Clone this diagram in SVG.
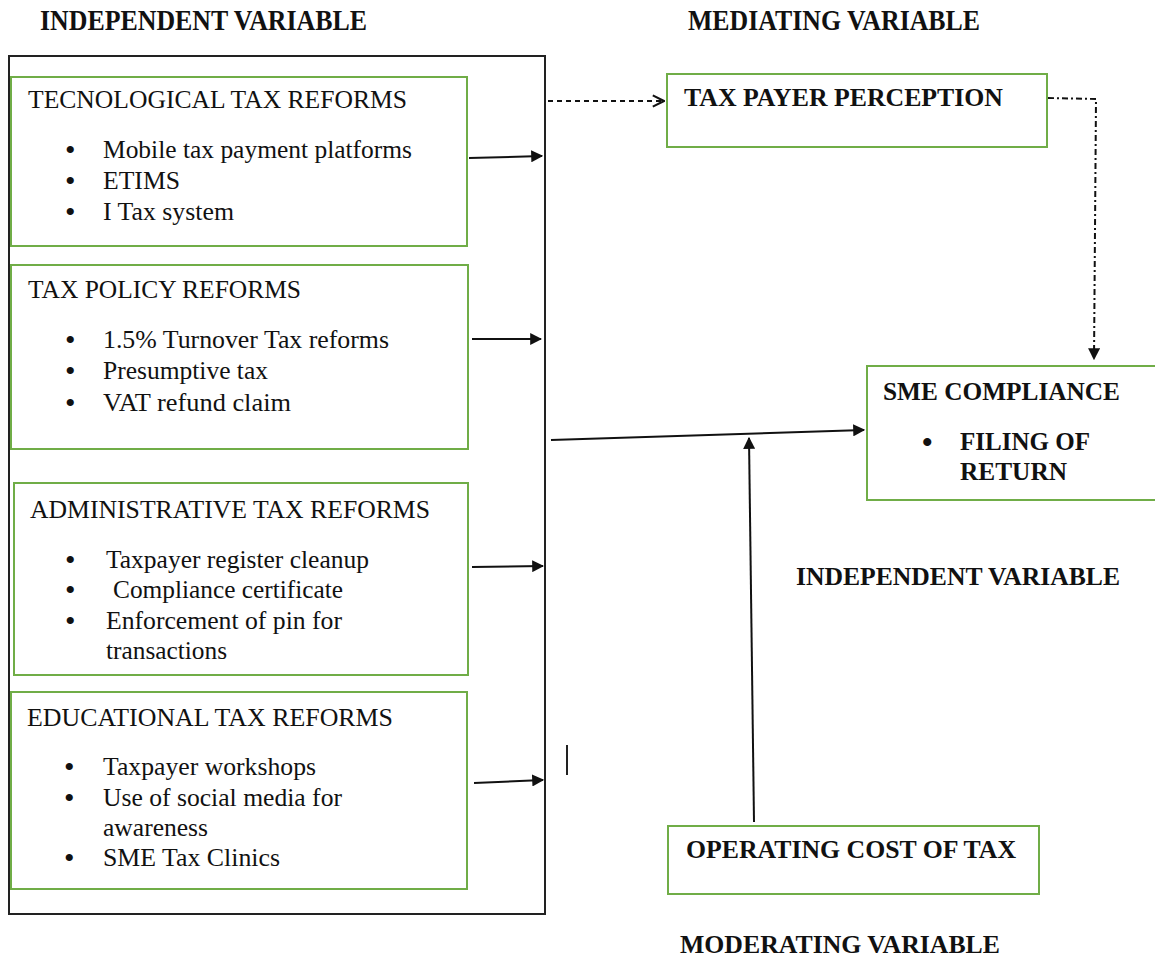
<svg xmlns="http://www.w3.org/2000/svg" width="1155" height="956" viewBox="0 0 1155 956">
<style>
  .body { font-size: 25px; fill: #111; }
  .bold { font-size: 25px; font-weight: bold; fill: #111; }
  .hdr { font-size: 29px; font-weight: bold; fill: #111; }
  .bul { font-size: 30px; fill: #111; }
  .gbox { fill: #fff; stroke: #70ad47; stroke-width: 2; }
  .outer { fill: none; stroke: #222; stroke-width: 2; }
  .conn { fill: none; stroke: #111; stroke-width: 2; }
</style>
<defs>
  <marker id="arr" viewBox="0 0 10 10" refX="9" refY="5" markerWidth="6" markerHeight="6" orient="auto" markerUnits="strokeWidth">
    <path d="M0,0 L10,5 L0,10 z" fill="#111"/>
  </marker>
  <marker id="open" viewBox="0 0 10 10" refX="9" refY="5" markerWidth="7" markerHeight="7" orient="auto" markerUnits="strokeWidth">
    <path d="M1,1 L9,5 L1,9" fill="none" stroke="#111" stroke-width="1.5"/>
  </marker>
</defs>

<rect width="1155" height="956" fill="#fff"/>

<g font-family="Liberation Serif">
<g id="headers">
  <text class="hdr" font-family="Liberation Serif" x="40" y="30" textLength="327" lengthAdjust="spacingAndGlyphs">INDEPENDENT VARIABLE</text>
  <text class="hdr" font-family="Liberation Serif" x="688" y="30" textLength="292" lengthAdjust="spacingAndGlyphs">MEDIATING VARIABLE</text>
  <text class="bold" font-family="Liberation Serif" x="796" y="585" textLength="324" lengthAdjust="spacingAndGlyphs">INDEPENDENT VARIABLE</text>
  <text class="bold" font-family="Liberation Serif" x="680" y="953" textLength="320" lengthAdjust="spacingAndGlyphs">MODERATING VARIABLE</text>
</g>

<g id="outer-box">
  <rect class="outer" x="9" y="56" width="536" height="858"/>
</g>

<g id="tech-reforms">
  <rect class="gbox" x="11" y="77" width="456" height="169"/>
  <text class="body" font-family="Liberation Serif" x="28" y="108" textLength="379" lengthAdjust="spacingAndGlyphs">TECNOLOGICAL TAX REFORMS</text>
  <text class="bul" font-family="Liberation Serif" x="65" y="160">•</text>
  <text class="body" font-family="Liberation Serif" x="103" y="158" textLength="309" lengthAdjust="spacingAndGlyphs">Mobile tax payment platforms</text>
  <text class="bul" font-family="Liberation Serif" x="65" y="191">•</text>
  <text class="body" font-family="Liberation Serif" x="103" y="189" textLength="77" lengthAdjust="spacingAndGlyphs">ETIMS</text>
  <text class="bul" font-family="Liberation Serif" x="65" y="222">•</text>
  <text class="body" font-family="Liberation Serif" x="103" y="220" textLength="131" lengthAdjust="spacingAndGlyphs">I Tax system</text>
</g>

<g id="policy-reforms">
  <rect class="gbox" x="11" y="265" width="457" height="184"/>
  <text class="body" font-family="Liberation Serif" x="28" y="298" textLength="273" lengthAdjust="spacingAndGlyphs">TAX POLICY REFORMS</text>
  <text class="bul" font-family="Liberation Serif" x="65" y="350">•</text>
  <text class="body" font-family="Liberation Serif" x="103" y="348" textLength="286" lengthAdjust="spacingAndGlyphs">1.5% Turnover Tax reforms</text>
  <text class="bul" font-family="Liberation Serif" x="65" y="381">•</text>
  <text class="body" font-family="Liberation Serif" x="103" y="379" textLength="165" lengthAdjust="spacingAndGlyphs">Presumptive tax</text>
  <text class="bul" font-family="Liberation Serif" x="65" y="413">•</text>
  <text class="body" font-family="Liberation Serif" x="103" y="411" textLength="188" lengthAdjust="spacingAndGlyphs">VAT refund claim</text>
</g>

<g id="admin-reforms">
  <rect class="gbox" x="14" y="483" width="454" height="192"/>
  <text class="body" font-family="Liberation Serif" x="30" y="518" textLength="400" lengthAdjust="spacingAndGlyphs">ADMINISTRATIVE TAX REFORMS</text>
  <text class="bul" font-family="Liberation Serif" x="65" y="570">•</text>
  <text class="body" font-family="Liberation Serif" x="106" y="568" textLength="263" lengthAdjust="spacingAndGlyphs">Taxpayer register cleanup</text>
  <text class="bul" font-family="Liberation Serif" x="65" y="600">•</text>
  <text class="body" font-family="Liberation Serif" x="113" y="598" textLength="230" lengthAdjust="spacingAndGlyphs">Compliance certificate</text>
  <text class="bul" font-family="Liberation Serif" x="65" y="631">•</text>
  <text class="body" font-family="Liberation Serif" x="106" y="629" textLength="236" lengthAdjust="spacingAndGlyphs">Enforcement of pin for</text>
  <text class="body" font-family="Liberation Serif" x="106" y="659" textLength="121" lengthAdjust="spacingAndGlyphs">transactions</text>
</g>

<g id="edu-reforms">
  <rect class="gbox" x="11" y="692" width="456" height="197"/>
  <text class="body" font-family="Liberation Serif" x="27" y="726" textLength="366" lengthAdjust="spacingAndGlyphs">EDUCATIONAL TAX REFORMS</text>
  <text class="bul" font-family="Liberation Serif" x="64" y="777">•</text>
  <text class="body" font-family="Liberation Serif" x="103" y="775" textLength="213" lengthAdjust="spacingAndGlyphs">Taxpayer workshops</text>
  <text class="bul" font-family="Liberation Serif" x="64" y="808">•</text>
  <text class="body" font-family="Liberation Serif" x="103" y="806" textLength="239" lengthAdjust="spacingAndGlyphs">Use of social media for</text>
  <text class="body" font-family="Liberation Serif" x="103" y="836" textLength="105" lengthAdjust="spacingAndGlyphs">awareness</text>
  <text class="bul" font-family="Liberation Serif" x="64" y="868">•</text>
  <text class="body" font-family="Liberation Serif" x="103" y="866" textLength="177" lengthAdjust="spacingAndGlyphs">SME Tax Clinics</text>
</g>

<g id="taxpayer-perception">
  <rect class="gbox" x="667" y="74" width="380" height="73"/>
  <text class="bold" font-family="Liberation Serif" x="684" y="106" textLength="319" lengthAdjust="spacingAndGlyphs">TAX PAYER PERCEPTION</text>
</g>

<g id="sme-compliance">
  <rect class="gbox" x="867" y="366" width="300" height="134"/>
  <text class="bold" font-family="Liberation Serif" x="883" y="400" textLength="237" lengthAdjust="spacingAndGlyphs">SME COMPLIANCE</text>
  <text class="bul" font-family="Liberation Serif" x="922" y="452" font-weight="bold">•</text>
  <text class="bold" font-family="Liberation Serif" x="960" y="450" textLength="130" lengthAdjust="spacingAndGlyphs">FILING OF</text>
  <text class="bold" font-family="Liberation Serif" x="960" y="480" textLength="107" lengthAdjust="spacingAndGlyphs">RETURN</text>
</g>

<g id="operating-cost">
  <rect class="gbox" x="668" y="826" width="371" height="68"/>
  <text class="bold" font-family="Liberation Serif" x="686" y="858" textLength="330" lengthAdjust="spacingAndGlyphs">OPERATING COST OF TAX</text>
</g>
</g>

<g id="connectors">
  <line class="conn" x1="469" y1="158" x2="542" y2="156" marker-end="url(#arr)"/>
  <line class="conn" x1="472" y1="339" x2="541" y2="339" marker-end="url(#arr)"/>
  <line class="conn" x1="472" y1="567" x2="543" y2="566" marker-end="url(#arr)"/>
  <line class="conn" x1="474" y1="783" x2="543" y2="780" marker-end="url(#arr)"/>
  <line class="conn" x1="548" y1="101" x2="664" y2="101" stroke-width="1.5" stroke-dasharray="5,4" marker-end="url(#open)"/>
  <polyline class="conn" points="1048,98 1096,99 1094,359" stroke-width="2" stroke-dasharray="6,3,2,3" marker-end="url(#arr)"/>
  <line class="conn" x1="551" y1="440" x2="864" y2="430" marker-end="url(#arr)"/>
  <line class="conn" x1="754" y1="822" x2="749" y2="438" marker-end="url(#arr)"/>
  <line x1="567" y1="745" x2="567" y2="775" stroke="#222" stroke-width="2"/>
</g>
</svg>
